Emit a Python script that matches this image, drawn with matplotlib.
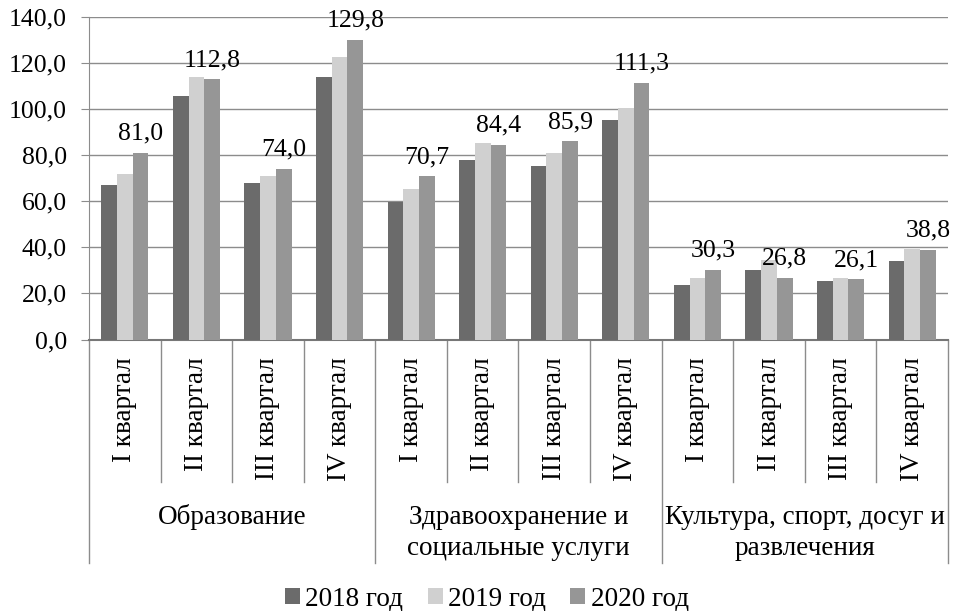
import numpy as np
import matplotlib
matplotlib.use("Agg")
import matplotlib.pyplot as plt
import matplotlib.transforms as mtransforms

plt.rcParams['font.family'] = 'serif'
plt.rcParams['font.serif'] = ['Liberation Serif', 'DejaVu Serif']

# data
quarters = ["I квартал", "II квартал", "III квартал", "IV квартал"]
sectors = ["Образование", "Здравоохранение и\nсоциальные услуги",
           "Культура, спорт, досуг и\nразвлечения"]
years = ["2018 год", "2019 год", "2020 год"]
v2018 = [67.1, 105.8, 68.0, 113.9, 59.8, 78.0, 75.2, 95.2, 23.8, 30.3, 25.2, 33.9]
v2019 = [71.6, 114.0, 71.1, 122.6, 65.1, 85.4, 80.8, 100.4, 26.7, 34.5, 26.5, 39.2]
v2020 = [81.0, 112.8, 74.0, 129.8, 70.7, 84.4, 85.9, 111.3, 30.3, 26.8, 26.1, 38.8]
colors = ["#6b6b6b", "#d0d0d0", "#969696"]

FS_NUM = 18.5   # numbers
FS_TXT = 19.5   # cyrillic labels
grid_c = "#8c8c8c"

fig = plt.figure(figsize=(9.54, 6.11), dpi=100)
ax = fig.add_axes([89/954, 1-339.5/611, (948-89)/954, (339.5-16.7)/611])

n = len(v2018)
x = np.arange(n) + 0.5
w = 0.22
for k, (vals, c, lab) in enumerate(zip([v2018, v2019, v2020], colors, years)):
    ax.bar(x + (k-1)*w, vals, width=w, color=c, label=lab, zorder=3)

# only 2020 values are labelled
for xi, v in zip(x + w, v2020):
    ax.annotate(f"{v:.1f}".replace('.', ','), (xi, v), xytext=(0, 6),
                textcoords='offset points', ha='center', va='bottom', fontsize=FS_NUM)

ax.set_xlim(0, n)
ax.set_ylim(0, 140)
yt = np.arange(0, 141, 20)
ax.set_yticks(yt)
ax.set_yticklabels([f"{t:.1f}".replace('.', ',') for t in yt], fontsize=FS_NUM)
ax.tick_params(axis='y', length=6, color=grid_c, pad=10)
ax.set_xticks([])
ax.grid(axis='y', color=grid_c, linewidth=1, zorder=0)
for s in ['top', 'right']:
    ax.spines[s].set_visible(False)
ax.spines['left'].set_color(grid_c)
ax.spines['bottom'].set_color("#777777")
ax.spines['bottom'].set_linewidth(1.5)

# two-level category axis
trans = mtransforms.blended_transform_factory(ax.transData, ax.transAxes)
for i in range(n + 1):
    bottom = -0.692 if i % 4 == 0 else -0.441
    ax.plot([i, i], [0, bottom], color=grid_c, linewidth=1, transform=trans, clip_on=False)
for i in range(n):
    ax.text(x[i], -0.055, quarters[i % 4], rotation=90, ha='center', va='top',
            fontsize=FS_TXT, transform=trans)
for j, s in enumerate(sectors):
    ax.text(4*j + 2, -0.55 if '\n' not in s else -0.60, s, ha='center', va='center',
            fontsize=FS_TXT, linespacing=1.3, transform=trans)

fig.legend(loc='center', bbox_to_anchor=(487/954, 1-599/611), ncol=3, frameon=False,
           fontsize=FS_TXT, handlelength=0.55, handleheight=0.55, handletextpad=0.2,
           columnspacing=0.9)

fig.savefig("out.png", dpi=100)
